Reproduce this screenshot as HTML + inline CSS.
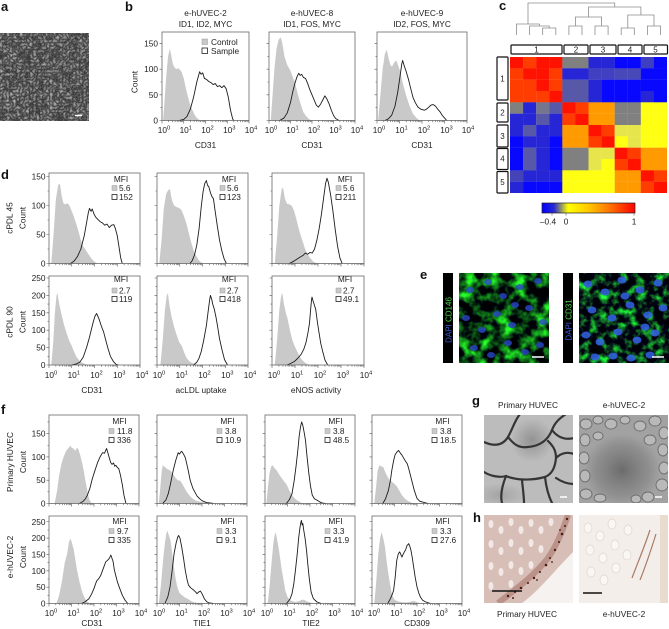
<!DOCTYPE html>
<html><head><meta charset="utf-8">
<style>
html,body{margin:0;padding:0;background:#fff}
svg{display:block;font-family:"Liberation Sans",Arial,sans-serif}
.t{font-size:8.3px;fill:#222}
.L{font-size:13px;font-weight:bold;fill:#111}
.fr{fill:none;stroke:#6a6a6a;stroke-width:0.8}
.tk{stroke:#555;stroke-width:0.6;fill:none}
.ctl{fill:#c9c9c9;stroke:none}
.smp{fill:none;stroke:#1c1c1c;stroke-width:0.9;stroke-linejoin:round;vector-effect:non-scaling-stroke}
.dg{stroke:#8c8c8c;stroke-width:0.8;fill:none}
.bx{fill:#fff;stroke:#111;stroke-width:1.2}
.lg{fill:#c9c9c9;stroke:#999;stroke-width:0.5}
.lw{fill:#fff;stroke:#222;stroke-width:0.8}
</style></head><body>
<svg width="669" height="629" viewBox="0 0 669 629">
<defs>
<path id="xd" d="M0,0V3M0.301,0V1.6M0.477,0V1.6M0.602,0V1.6M0.699,0V1.6M0.778,0V1.6M0.845,0V1.6M0.903,0V1.6M0.954,0V1.6" stroke="#555" stroke-width="0.6" vector-effect="non-scaling-stroke" fill="none"/>
<g id="xax"><use href="#xd"/><use href="#xd" x="1"/><use href="#xd" x="2"/><use href="#xd" x="3"/><path d="M4,0V3" stroke="#555" stroke-width="0.6" vector-effect="non-scaling-stroke"/></g>
<linearGradient id="cb"><stop offset="0" stop-color="#0000ff"/><stop offset="0.13" stop-color="#2a2ad0"/><stop offset="0.2" stop-color="#8a8a70"/><stop offset="0.28" stop-color="#ffff00"/><stop offset="0.5" stop-color="#ffc800"/><stop offset="0.75" stop-color="#ff6a00"/><stop offset="1" stop-color="#ff0000"/></linearGradient>
<filter id="fa" x="0" y="0" width="1" height="1" color-interpolation-filters="sRGB"><feTurbulence type="turbulence" baseFrequency="0.3" numOctaves="2" seed="2"/><feColorMatrix type="matrix" values="0.75 0 0 0 0.17  0.75 0 0 0 0.17  0.75 0 0 0 0.17  0 0 0 0 1"/></filter>
<filter id="fe1" x="0" y="0" width="1" height="1" color-interpolation-filters="sRGB"><feTurbulence type="fractalNoise" baseFrequency="0.08" numOctaves="3" seed="7"/><feColorMatrix type="matrix" values="0.4 0 0 0 -0.17  2.6 0 0 0 -1.05  0.3 0 0 0 -0.08  0 0 0 0 1"/></filter>
<filter id="fe2" x="0" y="0" width="1" height="1" color-interpolation-filters="sRGB"><feTurbulence type="fractalNoise" baseFrequency="0.11" numOctaves="3" seed="21"/><feColorMatrix type="matrix" values="0.3 0 0 0 -0.12  2.6 0 0 0 -1.15  0.4 0 0 0 -0.1  0 0 0 0 1"/></filter>
<radialGradient id="g1s" cx="0.5" cy="0.5" r="0.5"><stop offset="0" stop-color="#555" stop-opacity="0.4"/><stop offset="1" stop-color="#555" stop-opacity="0"/></radialGradient>
<radialGradient id="g2s" cx="0.5" cy="0.5" r="0.5"><stop offset="0" stop-color="#5a5a5a" stop-opacity="0.75"/><stop offset="0.7" stop-color="#6a6a6a" stop-opacity="0.35"/><stop offset="1" stop-color="#6a6a6a" stop-opacity="0"/></radialGradient>
<clipPath id="cg1"><rect x="484" y="415" width="89" height="88"/></clipPath>
<clipPath id="cg2"><rect x="579" y="415" width="89" height="88"/></clipPath>
<clipPath id="ch1"><rect x="484" y="515" width="89" height="88"/></clipPath>
<clipPath id="ch2"><rect x="579" y="515" width="89" height="88"/></clipPath>
</defs>

<!-- panel letters -->
<text class="L" x="1" y="11">a</text>
<text class="L" x="125" y="11">b</text>
<text class="L" x="499" y="10">c</text>
<text class="L" x="1" y="179">d</text>
<text class="L" x="420" y="279">e</text>
<text class="L" x="1" y="414">f</text>
<text class="L" x="472" y="405">g</text>
<text class="L" x="473" y="522">h</text>

<!-- a image -->
<rect x="0" y="33" width="89" height="88" fill="#3e3e3e" filter="url(#fa)"/>
<path d="M75,115.5H82" stroke="#fff" stroke-width="1.5"/>

<!-- b titles -->
<text class="t" x="205.5" y="16" text-anchor="middle">e-hUVEC-2</text>
<text class="t" x="205.5" y="27" text-anchor="middle">ID1, ID2, MYC</text>
<text class="t" x="312" y="16" text-anchor="middle">e-hUVEC-8</text>
<text class="t" x="312" y="27" text-anchor="middle">ID1, FOS, MYC</text>
<text class="t" x="422" y="16" text-anchor="middle">e-hUVEC-9</text>
<text class="t" x="422" y="27" text-anchor="middle">ID2, FOS, MYC</text>

<!-- b1 -->
<g transform="translate(162,120.5) scale(21.75,-0.513)">
<path class="ctl" d="M0.05,0L0.12,40L0.2,90L0.28,125L0.36,140L0.42,128L0.5,110L0.58,103L0.66,100L0.74,102L0.82,99L0.9,95L1,82L1.1,62L1.2,45L1.3,30L1.4,20L1.5,11L1.6,5L1.75,0Z"/>
<path class="smp" vector-effect="non-scaling-stroke" d="M0.8,0L1,2L1.15,8L1.3,22L1.45,45L1.6,75L1.73,95L1.8,90L1.87,93L1.95,82L2.05,80L2.15,76L2.25,74L2.35,70L2.45,72L2.55,66L2.65,68L2.75,64L2.85,68L2.95,62L3.05,45L3.15,20L3.25,3L3.3,0"/>
</g>
<rect class="fr" x="162" y="32" width="87" height="88.5"/>
<path class="tk" d="M159.5,120.5H162M159.5,94.85H162M159.5,69.2H162M159.5,43.55H162M160.5,107.7H162M160.5,82H162M160.5,56.4H162"/>
<g transform="translate(162,120.5) scale(21.75,1)"><use href="#xax"/></g>
<text class="t" x="158" y="46.5" text-anchor="end">150</text>
<text class="t" x="158" y="72.2" text-anchor="end">100</text>
<text class="t" x="158" y="97.9" text-anchor="end">50</text>
<text class="t" x="158" y="123.5" text-anchor="end">0</text>
<text class="t" transform="translate(137.5,82) rotate(-90)" text-anchor="middle">Count</text>
<rect class="lg" x="202" y="39" width="5.5" height="5.5"/><text class="t" x="211" y="45">Control</text>
<rect class="lw" x="202" y="48" width="5.5" height="5.5"/><text class="t" x="211" y="54">Sample</text>
<g class="t" text-anchor="middle">
<text x="164" y="133">10<tspan dy="-3.3" font-size="5.8">0</tspan></text>
<text x="185.8" y="133">10<tspan dy="-3.3" font-size="5.8">1</tspan></text>
<text x="207.5" y="133">10<tspan dy="-3.3" font-size="5.8">2</tspan></text>
<text x="229.3" y="133">10<tspan dy="-3.3" font-size="5.8">3</tspan></text>
<text x="251" y="133">10<tspan dy="-3.3" font-size="5.8">4</tspan></text>
<text x="205.5" y="148">CD31</text>
</g>

<!-- b2 -->
<g transform="translate(269,120.5) scale(21.5,-0.513)">
<path class="ctl" d="M0.08,0L0.15,40L0.25,100L0.35,140L0.45,158L0.55,162L0.62,150L0.72,125L0.85,108L1,97L1.1,85L1.2,75L1.35,50L1.5,28L1.6,16L1.7,10L1.85,3L2,0Z"/>
<path class="smp" vector-effect="non-scaling-stroke" d="M0.5,0L0.7,5L0.85,15L1,35L1.1,55L1.2,72L1.3,85L1.38,92L1.45,88L1.52,90L1.6,84L1.7,82L1.8,72L1.9,60L2,50L2.1,40L2.2,30L2.3,26L2.4,32L2.5,40L2.6,48L2.68,43L2.8,32L2.9,20L3,10L3.1,4L3.25,0"/>
</g>
<rect class="fr" x="269" y="32" width="86" height="88.5"/>
<path class="tk" d="M266.5,120.5H269M266.5,94.85H269M266.5,69.2H269M266.5,43.55H269M267.5,107.7H269M267.5,82H269M267.5,56.4H269"/>
<g transform="translate(269,120.5) scale(21.5,1)"><use href="#xax"/></g>
<g class="t" text-anchor="middle">
<text x="271" y="133">10<tspan dy="-3.3" font-size="5.8">0</tspan></text>
<text x="292.5" y="133">10<tspan dy="-3.3" font-size="5.8">1</tspan></text>
<text x="314" y="133">10<tspan dy="-3.3" font-size="5.8">2</tspan></text>
<text x="335.5" y="133">10<tspan dy="-3.3" font-size="5.8">3</tspan></text>
<text x="357" y="133">10<tspan dy="-3.3" font-size="5.8">4</tspan></text>
<text x="312" y="148">CD31</text>
</g>

<!-- b3 -->
<g transform="translate(377,120.5) scale(22.5,-0.513)">
<path class="ctl" d="M0.05,0L0.15,50L0.25,100L0.35,130L0.44,138L0.52,120L0.6,108L0.67,105L0.75,112L0.85,117L0.92,110L1.02,97L1.15,72L1.3,48L1.45,28L1.6,13L1.75,5L1.9,0Z"/>
<path class="smp" vector-effect="non-scaling-stroke" d="M0.35,0L0.5,3L0.65,10L0.8,28L0.92,55L1.02,85L1.1,110L1.14,117L1.2,108L1.3,95L1.4,80L1.5,62L1.6,45L1.7,35L1.82,26L1.95,22L2.1,20L2.2,22L2.3,26L2.4,30L2.5,31L2.6,28L2.7,22L2.8,17L2.9,10L3,5L3.1,0"/>
</g>
<rect class="fr" x="377" y="32" width="90" height="88.5"/>
<path class="tk" d="M374.5,120.5H377M374.5,94.85H377M374.5,69.2H377M374.5,43.55H377M375.5,107.7H377M375.5,82H377M375.5,56.4H377"/>
<g transform="translate(377,120.5) scale(22.5,1)"><use href="#xax"/></g>
<g class="t" text-anchor="middle">
<text x="379" y="133">10<tspan dy="-3.3" font-size="5.8">0</tspan></text>
<text x="401.5" y="133">10<tspan dy="-3.3" font-size="5.8">1</tspan></text>
<text x="424" y="133">10<tspan dy="-3.3" font-size="5.8">2</tspan></text>
<text x="446.5" y="133">10<tspan dy="-3.3" font-size="5.8">3</tspan></text>
<text x="468" y="133">10<tspan dy="-3.3" font-size="5.8">4</tspan></text>
<text x="422" y="148">CD31</text>
</g>

<!-- c dendrogram -->
<path class="dg" d="M528,24V3H614.7V7 M516.5,35V24H539.4 M539.4,24V26 M529.6,35V26H549.25V28 M542.7,35V28H555.8V35 M588.5,17V7H640.9V15 M575.5,26V17H601.6V26 M568.9,35V26H582V35 M595,35V26H608.1V35 M627.8,28V15H654V26 M621.2,35V28H634.3V35 M647.4,35V26H660.5V35"/>
<rect class="bx" x="511" y="45" width="51" height="9" rx="1"/>
<rect class="bx" x="564" y="45" width="24" height="9" rx="1"/>
<rect class="bx" x="590" y="45" width="26" height="9" rx="1"/>
<rect class="bx" x="618" y="45" width="24" height="9" rx="1"/>
<rect class="bx" x="644" y="45" width="23.5" height="9" rx="1"/>
<g class="t" text-anchor="middle" style="font-size:8px">
<text x="536.5" y="52.5">1</text><text x="576" y="52.5">2</text><text x="603" y="52.5">3</text><text x="630" y="52.5">4</text><text x="655.5" y="52.5">5</text>
</g>
<rect class="bx" x="497" y="57" width="11" height="43" rx="1"/>
<rect class="bx" x="497" y="103" width="11" height="19" rx="1"/>
<rect class="bx" x="497" y="125" width="11" height="22" rx="1"/>
<rect class="bx" x="497" y="148.5" width="11" height="21" rx="1"/>
<rect class="bx" x="497" y="171.5" width="11" height="21.5" rx="1"/>
<g class="t" text-anchor="middle" style="font-size:8px">
<text x="502.5" y="81.5">1</text><text x="502.5" y="115.5">2</text><text x="502.5" y="139">3</text><text x="502.5" y="161.5">4</text><text x="502.5" y="185">5</text>
</g>
<!-- heatmap -->
<g>
<rect x="510" y="57" width="13.2" height="11.45" fill="#ff1200"/><rect x="523.08" y="57" width="13.2" height="11.45" fill="#ff3d00"/><rect x="536.17" y="57" width="13.2" height="11.45" fill="#ff1200"/><rect x="549.25" y="57" width="13.2" height="11.45" fill="#ff1200"/><rect x="562.33" y="57" width="13.2" height="11.45" fill="#808080"/><rect x="575.42" y="57" width="13.2" height="11.45" fill="#808080"/><rect x="588.5" y="57" width="13.2" height="11.45" fill="#2626d6"/><rect x="601.58" y="57" width="13.2" height="11.45" fill="#2626d6"/><rect x="614.67" y="57" width="13.2" height="11.45" fill="#0808ff"/><rect x="627.75" y="57" width="13.2" height="11.45" fill="#0808ff"/><rect x="640.83" y="57" width="13.2" height="11.45" fill="#3e3ec0"/><rect x="653.92" y="57" width="13.08" height="11.45" fill="#0808ff"/>
<rect x="510" y="68.33" width="13.2" height="11.45" fill="#ff3d00"/><rect x="523.08" y="68.33" width="13.2" height="11.45" fill="#ff1200"/><rect x="536.17" y="68.33" width="13.2" height="11.45" fill="#ff1200"/><rect x="549.25" y="68.33" width="13.2" height="11.45" fill="#ff3d00"/><rect x="562.33" y="68.33" width="13.2" height="11.45" fill="#2626d6"/><rect x="575.42" y="68.33" width="13.2" height="11.45" fill="#2626d6"/><rect x="588.5" y="68.33" width="13.2" height="11.45" fill="#4040c0"/><rect x="601.58" y="68.33" width="13.2" height="11.45" fill="#4040c0"/><rect x="614.67" y="68.33" width="13.2" height="11.45" fill="#4848b8"/><rect x="627.75" y="68.33" width="13.2" height="11.45" fill="#4848b8"/><rect x="640.83" y="68.33" width="13.2" height="11.45" fill="#0808ff"/><rect x="653.92" y="68.33" width="13.08" height="11.45" fill="#0808ff"/>
<rect x="510" y="79.67" width="13.2" height="11.45" fill="#ff3d00"/><rect x="523.08" y="79.67" width="13.2" height="11.45" fill="#ff3d00"/><rect x="536.17" y="79.67" width="13.2" height="11.45" fill="#ff1200"/><rect x="549.25" y="79.67" width="13.2" height="11.45" fill="#ff3d00"/><rect x="562.33" y="79.67" width="13.2" height="11.45" fill="#5858a8"/><rect x="575.42" y="79.67" width="13.2" height="11.45" fill="#5858a8"/><rect x="588.5" y="79.67" width="13.2" height="11.45" fill="#2626d6"/><rect x="601.58" y="79.67" width="13.2" height="11.45" fill="#0808ff"/><rect x="614.67" y="79.67" width="13.2" height="11.45" fill="#0808ff"/><rect x="627.75" y="79.67" width="13.2" height="11.45" fill="#0808ff"/><rect x="640.83" y="79.67" width="13.2" height="11.45" fill="#0808ff"/><rect x="653.92" y="79.67" width="13.08" height="11.45" fill="#0808ff"/>
<rect x="510" y="91" width="13.2" height="11.45" fill="#ff3d00"/><rect x="523.08" y="91" width="13.2" height="11.45" fill="#ff3d00"/><rect x="536.17" y="91" width="13.2" height="11.45" fill="#ff3d00"/><rect x="549.25" y="91" width="13.2" height="11.45" fill="#ff1200"/><rect x="562.33" y="91" width="13.2" height="11.45" fill="#5858a8"/><rect x="575.42" y="91" width="13.2" height="11.45" fill="#5858a8"/><rect x="588.5" y="91" width="13.2" height="11.45" fill="#2626d6"/><rect x="601.58" y="91" width="13.2" height="11.45" fill="#0808ff"/><rect x="614.67" y="91" width="13.2" height="11.45" fill="#0808ff"/><rect x="627.75" y="91" width="13.2" height="11.45" fill="#0808ff"/><rect x="640.83" y="91" width="13.2" height="11.45" fill="#2626d6"/><rect x="653.92" y="91" width="13.08" height="11.45" fill="#0808ff"/>
<rect x="510" y="102.33" width="13.2" height="11.45" fill="#808080"/><rect x="523.08" y="102.33" width="13.2" height="11.45" fill="#2626d6"/><rect x="536.17" y="102.33" width="13.2" height="11.45" fill="#757590"/><rect x="549.25" y="102.33" width="13.2" height="11.45" fill="#5858a8"/><rect x="562.33" y="102.33" width="13.2" height="11.45" fill="#ff1200"/><rect x="575.42" y="102.33" width="13.2" height="11.45" fill="#ff3d00"/><rect x="588.5" y="102.33" width="13.2" height="11.45" fill="#ff9a00"/><rect x="601.58" y="102.33" width="13.2" height="11.45" fill="#ff9a00"/><rect x="614.67" y="102.33" width="13.2" height="11.45" fill="#808080"/><rect x="627.75" y="102.33" width="13.2" height="11.45" fill="#808080"/><rect x="640.83" y="102.33" width="13.2" height="11.45" fill="#ffff14"/><rect x="653.92" y="102.33" width="13.08" height="11.45" fill="#ffff14"/>
<rect x="510" y="113.67" width="13.2" height="11.45" fill="#2626d6"/><rect x="523.08" y="113.67" width="13.2" height="11.45" fill="#2626d6"/><rect x="536.17" y="113.67" width="13.2" height="11.45" fill="#5858a8"/><rect x="549.25" y="113.67" width="13.2" height="11.45" fill="#2626d6"/><rect x="562.33" y="113.67" width="13.2" height="11.45" fill="#ff3d00"/><rect x="575.42" y="113.67" width="13.2" height="11.45" fill="#ff1200"/><rect x="588.5" y="113.67" width="13.2" height="11.45" fill="#ff9a00"/><rect x="601.58" y="113.67" width="13.2" height="11.45" fill="#ff9a00"/><rect x="614.67" y="113.67" width="13.2" height="11.45" fill="#808080"/><rect x="627.75" y="113.67" width="13.2" height="11.45" fill="#808080"/><rect x="640.83" y="113.67" width="13.2" height="11.45" fill="#ffff14"/><rect x="653.92" y="113.67" width="13.08" height="11.45" fill="#ffff14"/>
<rect x="510" y="125" width="13.2" height="11.45" fill="#2626d6"/><rect x="523.08" y="125" width="13.2" height="11.45" fill="#5858a8"/><rect x="536.17" y="125" width="13.2" height="11.45" fill="#2626d6"/><rect x="549.25" y="125" width="13.2" height="11.45" fill="#2626d6"/><rect x="562.33" y="125" width="13.2" height="11.45" fill="#ff9a00"/><rect x="575.42" y="125" width="13.2" height="11.45" fill="#ff9a00"/><rect x="588.5" y="125" width="13.2" height="11.45" fill="#ff1200"/><rect x="601.58" y="125" width="13.2" height="11.45" fill="#ff3d00"/><rect x="614.67" y="125" width="13.2" height="11.45" fill="#e6e64c"/><rect x="627.75" y="125" width="13.2" height="11.45" fill="#e6e64c"/><rect x="640.83" y="125" width="13.2" height="11.45" fill="#ffff14"/><rect x="653.92" y="125" width="13.08" height="11.45" fill="#ffff14"/>
<rect x="510" y="136.33" width="13.2" height="11.45" fill="#0808ff"/><rect x="523.08" y="136.33" width="13.2" height="11.45" fill="#2626d6"/><rect x="536.17" y="136.33" width="13.2" height="11.45" fill="#2626d6"/><rect x="549.25" y="136.33" width="13.2" height="11.45" fill="#0808ff"/><rect x="562.33" y="136.33" width="13.2" height="11.45" fill="#ff9a00"/><rect x="575.42" y="136.33" width="13.2" height="11.45" fill="#ff9a00"/><rect x="588.5" y="136.33" width="13.2" height="11.45" fill="#ff3d00"/><rect x="601.58" y="136.33" width="13.2" height="11.45" fill="#ff1200"/><rect x="614.67" y="136.33" width="13.2" height="11.45" fill="#ffff14"/><rect x="627.75" y="136.33" width="13.2" height="11.45" fill="#e6e64c"/><rect x="640.83" y="136.33" width="13.2" height="11.45" fill="#ffff14"/><rect x="653.92" y="136.33" width="13.08" height="11.45" fill="#ffff14"/>
<rect x="510" y="147.67" width="13.2" height="11.45" fill="#0808ff"/><rect x="523.08" y="147.67" width="13.2" height="11.45" fill="#5858a8"/><rect x="536.17" y="147.67" width="13.2" height="11.45" fill="#2626d6"/><rect x="549.25" y="147.67" width="13.2" height="11.45" fill="#0808ff"/><rect x="562.33" y="147.67" width="13.2" height="11.45" fill="#808080"/><rect x="575.42" y="147.67" width="13.2" height="11.45" fill="#808080"/><rect x="588.5" y="147.67" width="13.2" height="11.45" fill="#e6e64c"/><rect x="601.58" y="147.67" width="13.2" height="11.45" fill="#e6e64c"/><rect x="614.67" y="147.67" width="13.2" height="11.45" fill="#ff1200"/><rect x="627.75" y="147.67" width="13.2" height="11.45" fill="#ff3d00"/><rect x="640.83" y="147.67" width="13.2" height="11.45" fill="#ff9a00"/><rect x="653.92" y="147.67" width="13.08" height="11.45" fill="#ff9a00"/>
<rect x="510" y="159" width="13.2" height="11.45" fill="#0808ff"/><rect x="523.08" y="159" width="13.2" height="11.45" fill="#5858a8"/><rect x="536.17" y="159" width="13.2" height="11.45" fill="#2626d6"/><rect x="549.25" y="159" width="13.2" height="11.45" fill="#0808ff"/><rect x="562.33" y="159" width="13.2" height="11.45" fill="#808080"/><rect x="575.42" y="159" width="13.2" height="11.45" fill="#808080"/><rect x="588.5" y="159" width="13.2" height="11.45" fill="#e6e64c"/><rect x="601.58" y="159" width="13.2" height="11.45" fill="#ffff14"/><rect x="614.67" y="159" width="13.2" height="11.45" fill="#ff3d00"/><rect x="627.75" y="159" width="13.2" height="11.45" fill="#ff1200"/><rect x="640.83" y="159" width="13.2" height="11.45" fill="#ff9a00"/><rect x="653.92" y="159" width="13.08" height="11.45" fill="#ff9a00"/>
<rect x="510" y="170.33" width="13.2" height="11.45" fill="#4444b8"/><rect x="523.08" y="170.33" width="13.2" height="11.45" fill="#2626d6"/><rect x="536.17" y="170.33" width="13.2" height="11.45" fill="#2626d6"/><rect x="549.25" y="170.33" width="13.2" height="11.45" fill="#2626d6"/><rect x="562.33" y="170.33" width="13.2" height="11.45" fill="#ffff14"/><rect x="575.42" y="170.33" width="13.2" height="11.45" fill="#ffff14"/><rect x="588.5" y="170.33" width="13.2" height="11.45" fill="#ffff14"/><rect x="601.58" y="170.33" width="13.2" height="11.45" fill="#ffff14"/><rect x="614.67" y="170.33" width="13.2" height="11.45" fill="#ff9a00"/><rect x="627.75" y="170.33" width="13.2" height="11.45" fill="#ff9a00"/><rect x="640.83" y="170.33" width="13.2" height="11.45" fill="#ff1200"/><rect x="653.92" y="170.33" width="13.08" height="11.45" fill="#ff3d00"/>
<rect x="510" y="181.67" width="13.2" height="11.33" fill="#2626d6"/><rect x="523.08" y="181.67" width="13.2" height="11.33" fill="#0808ff"/><rect x="536.17" y="181.67" width="13.2" height="11.33" fill="#0808ff"/><rect x="549.25" y="181.67" width="13.2" height="11.33" fill="#0808ff"/><rect x="562.33" y="181.67" width="13.2" height="11.33" fill="#ffff14"/><rect x="575.42" y="181.67" width="13.2" height="11.33" fill="#ffff14"/><rect x="588.5" y="181.67" width="13.2" height="11.33" fill="#ffff14"/><rect x="601.58" y="181.67" width="13.2" height="11.33" fill="#ffff14"/><rect x="614.67" y="181.67" width="13.2" height="11.33" fill="#ff9a00"/><rect x="627.75" y="181.67" width="13.2" height="11.33" fill="#ff9a00"/><rect x="640.83" y="181.67" width="13.2" height="11.33" fill="#ff3d00"/><rect x="653.92" y="181.67" width="13.08" height="11.33" fill="#ff1200"/>
</g>
<!-- colorbar -->
<rect x="542" y="203" width="93" height="10" fill="url(#cb)" stroke="#222" stroke-width="0.7"/>
<path class="tk" d="M552,213V215.5M566,213V215.5M634,213V215.5"/>
<g class="t" text-anchor="middle">
<text x="548" y="224.5">–0.4</text><text x="566" y="224.5">0</text><text x="634" y="224.5">1</text>
</g>

<!-- d row labels -->
<g class="t" text-anchor="middle">
<text transform="translate(12.5,218) rotate(-90)">cPDL 45</text>
<text transform="translate(25.5,218) rotate(-90)">Count</text>
<text transform="translate(12.5,322) rotate(-90)">cPDL 90</text>
<text transform="translate(25.5,322) rotate(-90)">Count</text>
</g>
<g class="t" text-anchor="end">
<text x="45.5" y="179.5">150</text><text x="45.5" y="208.5">100</text><text x="45.5" y="237.5">50</text><text x="45.5" y="266.5">0</text>
<text x="45.5" y="281">250</text><text x="45.5" y="298.4">200</text><text x="45.5" y="315.8">150</text><text x="45.5" y="333.2">100</text><text x="45.5" y="350.6">50</text><text x="45.5" y="368">0</text>
</g>

<!-- d top plots -->
<g transform="translate(49,263.5) scale(22.75,-0.58)">
<path class="ctl" d="M0.1,0L0.2,50L0.3,110L0.4,135L0.48,138L0.55,118L0.63,104L0.72,102L0.8,104L0.9,100L1,90L1.1,80L1.2,68L1.3,55L1.4,40L1.5,30L1.6,24L1.7,18L1.8,12L1.9,7L2,3L2.15,0Z"/>
<path class="smp" vector-effect="non-scaling-stroke" d="M0.95,0L1.1,4L1.25,12L1.4,25L1.55,48L1.65,70L1.73,88L1.78,95L1.85,90L1.9,94L1.97,86L2.05,80L2.15,76L2.25,72L2.35,70L2.45,66L2.55,68L2.65,62L2.75,66L2.85,67L2.92,60L3,48L3.08,28L3.15,10L3.22,0"/>
</g>
<g transform="translate(157,263.5) scale(22.75,-0.58)">
<path class="ctl" d="M0.1,0L0.2,40L0.3,95L0.4,120L0.5,127L0.57,128L0.65,110L0.75,100L0.87,97L0.97,96L1.08,92L1.2,80L1.3,68L1.4,52L1.52,34L1.63,20L1.74,12L1.85,5L2,0Z"/>
<path class="smp" vector-effect="non-scaling-stroke" d="M1.45,0L1.55,5L1.65,15L1.75,32L1.85,60L1.95,100L2.03,125L2.1,138L2.17,143L2.22,135L2.28,132L2.35,122L2.42,115L2.48,112L2.55,92L2.65,65L2.75,40L2.85,22L2.95,8L3.05,0"/>
</g>
<g transform="translate(272,263.5) scale(23,-0.58)">
<path class="ctl" d="M0.12,0L0.22,45L0.32,100L0.42,128L0.48,131L0.56,112L0.65,103L0.75,102L0.85,100L0.95,92L1.05,78L1.15,62L1.25,48L1.35,36L1.45,24L1.55,16L1.65,10L1.8,3L1.95,0Z"/>
<path class="smp" vector-effect="non-scaling-stroke" d="M0.75,0L0.95,4L1.1,8L1.22,11L1.35,14L1.45,18L1.55,16L1.65,19L1.75,18L1.85,25L1.95,40L2.05,60L2.15,85L2.25,115L2.33,138L2.39,147L2.45,140L2.55,118L2.65,90L2.75,58L2.85,30L2.95,10L3.05,0"/>
</g>
<rect class="fr" x="49" y="173" width="91" height="90.5"/>
<rect class="fr" x="157" y="173" width="91" height="90.5"/>
<rect class="fr" x="272" y="173" width="92" height="90.5"/>
<path class="tk" d="M46.5,263.5H49M46.5,234.5H49M46.5,205.5H49M46.5,176.5H49M47.5,249H49M47.5,220H49M47.5,191H49 M154.5,263.5H157M154.5,234.5H157M154.5,205.5H157M154.5,176.5H157M155.5,249H157M155.5,220H157M155.5,191H157 M269.5,263.5H272M269.5,234.5H272M269.5,205.5H272M269.5,176.5H272M270.5,249H272M270.5,220H272M270.5,191H272"/>
<g transform="translate(49,263.5) scale(22.75,1)"><use href="#xax"/></g>
<g transform="translate(157,263.5) scale(22.75,1)"><use href="#xax"/></g>
<g transform="translate(272,263.5) scale(23,1)"><use href="#xax"/></g>
<g class="t">
<text x="121" y="182" text-anchor="middle">MFI</text>
<rect class="lg" x="112" y="185.5" width="5" height="5"/><text x="119" y="191">5.6</text>
<rect class="lw" x="112" y="194.5" width="5" height="5"/><text x="119" y="200">152</text>
<text x="229" y="182" text-anchor="middle">MFI</text>
<rect class="lg" x="220" y="185.5" width="5" height="5"/><text x="227" y="191">5.6</text>
<rect class="lw" x="220" y="194.5" width="5" height="5"/><text x="227" y="200">123</text>
<text x="345" y="182" text-anchor="middle">MFI</text>
<rect class="lg" x="336" y="185.5" width="5" height="5"/><text x="343" y="191">5.6</text>
<rect class="lw" x="336" y="194.5" width="5" height="5"/><text x="343" y="200">211</text>
</g>

<!-- d bottom plots -->
<g transform="translate(49,365) scale(22.75,-0.348)">
<path class="ctl" d="M0.1,0L0.18,60L0.26,150L0.33,200L0.37,206L0.45,175L0.55,145L0.65,118L0.78,90L0.9,68L1,55L1.1,38L1.22,22L1.35,12L1.5,5L1.7,0Z"/>
<path class="smp" vector-effect="non-scaling-stroke" d="M1,0L1.2,3L1.35,8L1.5,22L1.65,50L1.78,80L1.87,104L1.95,125L2.02,140L2.09,148L2.15,140L2.2,132L2.3,112L2.4,95L2.5,70L2.6,46L2.7,25L2.83,10L2.95,2L3.05,0"/>
</g>
<g transform="translate(157,365) scale(22.75,-0.348)">
<path class="ctl" d="M0.15,0L0.25,70L0.35,160L0.43,200L0.48,206L0.55,170L0.63,142L0.75,110L0.87,85L0.98,65L1.09,55L1.2,35L1.3,20L1.45,9L1.6,4L1.8,0Z"/>
<path class="smp" vector-effect="non-scaling-stroke" d="M1.6,0L1.75,8L1.85,20L1.95,40L2.05,70L2.17,113L2.26,160L2.32,190L2.35,200L2.4,190L2.45,175L2.52,160L2.6,135L2.67,108L2.75,75L2.87,40L2.97,15L3.1,0"/>
</g>
<g transform="translate(272,365) scale(23,-0.348)">
<path class="ctl" d="M0.12,0L0.22,70L0.32,160L0.4,200L0.45,206L0.52,175L0.6,150L0.67,135L0.78,100L0.89,70L1,52L1.09,40L1.2,25L1.3,15L1.45,6L1.6,0Z"/>
<path class="smp" vector-effect="non-scaling-stroke" d="M0.65,0L0.8,4L0.97,10L1.1,18L1.26,30L1.38,45L1.48,65L1.57,95L1.63,120L1.68,160L1.72,188L1.74,195L1.78,185L1.83,175L1.9,160L1.97,125L2.04,95L2.12,62L2.2,40L2.3,15L2.42,0"/>
</g>
<rect class="fr" x="49" y="276" width="91" height="89"/>
<rect class="fr" x="157" y="276" width="91" height="89"/>
<rect class="fr" x="272" y="276" width="92" height="89"/>
<path class="tk" d="M46.5,365H49M46.5,347.6H49M46.5,330.2H49M46.5,312.8H49M46.5,295.4H49M46.5,278H49M47.5,356.3H49M47.5,338.9H49M47.5,321.5H49M47.5,304.1H49M47.5,286.7H49 M154.5,365H157M154.5,347.6H157M154.5,330.2H157M154.5,312.8H157M154.5,295.4H157M154.5,278H157M155.5,356.3H157M155.5,338.9H157M155.5,321.5H157M155.5,304.1H157M155.5,286.7H157 M269.5,365H272M269.5,347.6H272M269.5,330.2H272M269.5,312.8H272M269.5,295.4H272M269.5,278H272M270.5,356.3H272M270.5,338.9H272M270.5,321.5H272M270.5,304.1H272M270.5,286.7H272"/>
<g transform="translate(49,365) scale(22.75,1)"><use href="#xax"/></g>
<g transform="translate(157,365) scale(22.75,1)"><use href="#xax"/></g>
<g transform="translate(272,365) scale(23,1)"><use href="#xax"/></g>
<g class="t">
<text x="121" y="282" text-anchor="middle">MFI</text>
<rect class="lg" x="112" y="288" width="5" height="5"/><text x="119" y="293.5">2.7</text>
<rect class="lw" x="112" y="296.5" width="5" height="5"/><text x="119" y="302">119</text>
<text x="229" y="282" text-anchor="middle">MFI</text>
<rect class="lg" x="220" y="288" width="5" height="5"/><text x="227" y="293.5">2.7</text>
<rect class="lw" x="220" y="296.5" width="5" height="5"/><text x="227" y="302">418</text>
<text x="345" y="282" text-anchor="middle">MFI</text>
<rect class="lg" x="336" y="288" width="5" height="5"/><text x="343" y="293.5">2.7</text>
<rect class="lw" x="336" y="296.5" width="5" height="5"/><text x="343" y="302">49.1</text>
</g>
<g class="t" text-anchor="middle">
<text x="51" y="378">10<tspan dy="-3.3" font-size="5.8">0</tspan></text>
<text x="73.8" y="378">10<tspan dy="-3.3" font-size="5.8">1</tspan></text>
<text x="96.5" y="378">10<tspan dy="-3.3" font-size="5.8">2</tspan></text>
<text x="119.3" y="378">10<tspan dy="-3.3" font-size="5.8">3</tspan></text>
<text x="142" y="378">10<tspan dy="-3.3" font-size="5.8">4</tspan></text>
<text x="159" y="378">10<tspan dy="-3.3" font-size="5.8">0</tspan></text>
<text x="181.8" y="378">10<tspan dy="-3.3" font-size="5.8">1</tspan></text>
<text x="204.5" y="378">10<tspan dy="-3.3" font-size="5.8">2</tspan></text>
<text x="227.3" y="378">10<tspan dy="-3.3" font-size="5.8">3</tspan></text>
<text x="250" y="378">10<tspan dy="-3.3" font-size="5.8">4</tspan></text>
<text x="274" y="378">10<tspan dy="-3.3" font-size="5.8">0</tspan></text>
<text x="297" y="378">10<tspan dy="-3.3" font-size="5.8">1</tspan></text>
<text x="320" y="378">10<tspan dy="-3.3" font-size="5.8">2</tspan></text>
<text x="343" y="378">10<tspan dy="-3.3" font-size="5.8">3</tspan></text>
<text x="366" y="378">10<tspan dy="-3.3" font-size="5.8">4</tspan></text>
<text x="92" y="393">CD31</text>
<text x="201" y="393">acLDL uptake</text>
<text x="316" y="393">eNOS activity</text>
</g>

<!-- e panel -->
<rect x="443" y="273" width="10" height="90" fill="#000"/>
<rect x="459" y="273" width="90" height="90" fill="#000" filter="url(#fe1)"/>
<rect x="563" y="273" width="10" height="90" fill="#000"/>
<rect x="579" y="273" width="90" height="90" fill="#000" filter="url(#fe2)"/>
<g font-size="8" text-anchor="middle">
<text transform="translate(451.5,320) rotate(-90)"><tspan fill="#3b5bd6">DAPI</tspan><tspan fill="#4cd84c"> CD146</tspan></text>
<text transform="translate(571.5,320) rotate(-90)"><tspan fill="#3b5bd6">DAPI</tspan><tspan fill="#4cd84c"> CD31</tspan></text>
</g>
<g fill="#2a46c8" opacity="0.8">
<ellipse cx="470" cy="290" rx="4" ry="3"/><ellipse cx="488" cy="282" rx="4" ry="3"/><ellipse cx="503" cy="296" rx="4" ry="3"/><ellipse cx="520" cy="287" rx="4" ry="3"/><ellipse cx="538" cy="281" rx="4" ry="3"/><ellipse cx="466" cy="318" rx="4" ry="3"/><ellipse cx="482" cy="330" rx="4" ry="3"/><ellipse cx="497" cy="314" rx="4" ry="3"/><ellipse cx="512" cy="325" rx="4" ry="3"/><ellipse cx="529" cy="308" rx="4" ry="3"/><ellipse cx="543" cy="322" rx="4" ry="3"/><ellipse cx="474" cy="348" rx="4" ry="3"/><ellipse cx="491" cy="355" rx="4" ry="3"/><ellipse cx="508" cy="343" rx="4" ry="3"/><ellipse cx="525" cy="352" rx="4" ry="3"/><ellipse cx="540" cy="345" rx="4" ry="3"/><ellipse cx="515" cy="305" rx="4" ry="3"/>
</g>
<g fill="#3462e6" opacity="0.85">
<ellipse cx="588" cy="284" rx="4.5" ry="3.5"/><ellipse cx="605" cy="292" rx="4.5" ry="3.5"/><ellipse cx="622" cy="280" rx="4.5" ry="3.5"/><ellipse cx="640" cy="290" rx="4.5" ry="3.5"/><ellipse cx="658" cy="283" rx="4.5" ry="3.5"/><ellipse cx="592" cy="310" rx="4.5" ry="3.5"/><ellipse cx="612" cy="318" rx="4.5" ry="3.5"/><ellipse cx="630" cy="305" rx="4.5" ry="3.5"/><ellipse cx="648" cy="315" rx="4.5" ry="3.5"/><ellipse cx="663" cy="308" rx="4.5" ry="3.5"/><ellipse cx="586" cy="335" rx="4.5" ry="3.5"/><ellipse cx="600" cy="342" rx="4.5" ry="3.5"/><ellipse cx="618" cy="332" rx="4.5" ry="3.5"/><ellipse cx="637" cy="340" rx="4.5" ry="3.5"/><ellipse cx="655" cy="333" rx="4.5" ry="3.5"/><ellipse cx="595" cy="357" rx="4.5" ry="3.5"/><ellipse cx="613" cy="356" rx="4.5" ry="3.5"/><ellipse cx="631" cy="358" rx="4.5" ry="3.5"/><ellipse cx="650" cy="355" rx="4.5" ry="3.5"/><ellipse cx="625" cy="296" rx="4.5" ry="3.5"/><ellipse cx="645" cy="327" rx="4.5" ry="3.5"/>
</g>
<path d="M532,357H544M652,357H664" stroke="#fff" stroke-width="1.5"/>

<!-- f row labels -->
<g class="t" text-anchor="middle">
<text transform="translate(13,462) rotate(-90)">Primary HUVEC</text>
<text transform="translate(26,462) rotate(-90)">Count</text>
<text transform="translate(13,557) rotate(-90)">e-hUVEC-2</text>
<text transform="translate(26,557) rotate(-90)">Count</text>
</g>
<g class="t" text-anchor="end">
<text x="45.5" y="436.6">150</text><text x="45.5" y="459.9">100</text><text x="45.5" y="483.2">50</text><text x="45.5" y="506.5">0</text>
<text x="45.5" y="524.75">250</text><text x="45.5" y="541.1">200</text><text x="45.5" y="557.45">150</text><text x="45.5" y="573.8">100</text><text x="45.5" y="590.15">50</text><text x="45.5" y="606.5">0</text>
</g>

<!-- f top plots -->
<g transform="translate(49,503.5) scale(22.5,-0.466)">
<path class="ctl" d="M0.25,0L0.35,25L0.45,60L0.55,85L0.65,100L0.75,112L0.85,118L0.94,124L1,120L1.08,118L1.17,113L1.25,120L1.3,117L1.38,105L1.48,86L1.55,68L1.62,49L1.7,28L1.78,10L1.9,0Z"/>
<path class="smp" vector-effect="non-scaling-stroke" d="M1.35,0L1.5,4L1.6,9L1.7,17L1.82,33L1.93,54L2.05,72L2.16,88L2.27,100L2.38,109L2.47,108L2.52,114L2.56,118L2.62,108L2.68,98L2.74,88L2.8,84L2.87,87L2.92,80L2.97,82L3.04,77L3.1,75L3.18,60L3.26,40L3.33,18L3.42,0"/>
</g>
<g transform="translate(157,503.5) scale(22.5,-0.466)">
<path class="ctl" d="M0.08,0L0.14,30L0.2,65L0.25,82L0.3,80L0.36,78L0.45,74L0.58,71L0.7,64L0.81,56L0.92,50L1.03,49L1.15,40L1.26,30L1.37,22L1.48,15L1.62,9L1.78,5L2,3L2.2,2L2.5,1L2.7,0Z"/>
<path class="smp" vector-effect="non-scaling-stroke" d="M0.25,0L0.4,8L0.5,21L0.6,42L0.72,71L0.83,92L0.94,109L1,106L1.05,110L1.1,112L1.18,106L1.26,98L1.37,75L1.48,49L1.6,32L1.78,16L1.9,10L2,6L2.2,2L2.4,1L2.5,0"/>
</g>
<g transform="translate(265,503.5) scale(22.5,-0.466)">
<path class="ctl" d="M0.06,0L0.12,30L0.2,65L0.28,80L0.34,82L0.42,76L0.52,71L0.63,62L0.75,54L0.86,47L0.97,40L1.08,28L1.2,18L1.3,12L1.42,7L1.55,3L1.7,0Z"/>
<path class="smp" vector-effect="non-scaling-stroke" d="M0.95,0L1.08,8L1.2,21L1.3,50L1.38,80L1.45,110L1.52,145L1.58,165L1.63,175L1.68,168L1.75,150L1.8,135L1.87,100L1.95,64L2.02,38L2.1,18L2.2,10L2.32,7L2.45,3L2.55,1L2.7,0"/>
</g>
<g transform="translate(372,503.5) scale(22.5,-0.466)">
<path class="ctl" d="M0.1,0L0.18,35L0.25,70L0.33,82L0.4,80L0.5,78L0.62,64L0.73,54L0.88,47L1,42L1.1,37L1.22,27L1.33,18L1.45,11L1.55,7L1.7,3L1.85,0Z"/>
<path class="smp" vector-effect="non-scaling-stroke" d="M0.48,0L0.6,10L0.73,28L0.82,50L0.88,71L0.96,92L1.03,105L1.1,110L1.18,114L1.26,108L1.33,104L1.4,98L1.5,90L1.57,85L1.63,75L1.7,62L1.78,47L1.88,28L2,11L2.12,5L2.25,3L2.5,0"/>
</g>
<rect class="fr" x="49" y="415" width="90" height="88.5"/>
<rect class="fr" x="157" y="415" width="90" height="88.5"/>
<rect class="fr" x="265" y="415" width="90" height="88.5"/>
<rect class="fr" x="372" y="415" width="90" height="88.5"/>
<path class="tk" d="M46.5,503.5H49M46.5,480.2H49M46.5,456.9H49M46.5,433.6H49M47.5,491.85H49M47.5,468.55H49M47.5,445.25H49M47.5,421.95H49 M154.5,503.5H157M154.5,480.2H157M154.5,456.9H157M154.5,433.6H157M155.5,491.85H157M155.5,468.55H157M155.5,445.25H157M155.5,421.95H157 M262.5,503.5H265M262.5,480.2H265M262.5,456.9H265M262.5,433.6H265M263.5,491.85H265M263.5,468.55H265M263.5,445.25H265M263.5,421.95H265 M369.5,503.5H372M369.5,480.2H372M369.5,456.9H372M369.5,433.6H372M370.5,491.85H372M370.5,468.55H372M370.5,445.25H372M370.5,421.95H372"/>
<g transform="translate(49,503.5) scale(22.5,1)"><use href="#xax"/></g>
<g transform="translate(157,503.5) scale(22.5,1)"><use href="#xax"/></g>
<g transform="translate(265,503.5) scale(22.5,1)"><use href="#xax"/></g>
<g transform="translate(372,503.5) scale(22.5,1)"><use href="#xax"/></g>
<g class="t">
<text x="119.5" y="424" text-anchor="middle">MFI</text>
<rect class="lg" x="109" y="428.5" width="5" height="5"/><text x="117" y="434">11.8</text>
<rect class="lw" x="109" y="437.5" width="5" height="5"/><text x="117" y="443">336</text>
<text x="227.5" y="424" text-anchor="middle">MFI</text>
<rect class="lg" x="217" y="428.5" width="5" height="5"/><text x="225" y="434">3.8</text>
<rect class="lw" x="217" y="437.5" width="5" height="5"/><text x="225" y="443">10.9</text>
<text x="335.5" y="424" text-anchor="middle">MFI</text>
<rect class="lg" x="325" y="428.5" width="5" height="5"/><text x="333" y="434">3.8</text>
<rect class="lw" x="325" y="437.5" width="5" height="5"/><text x="333" y="443">48.5</text>
<text x="442.5" y="424" text-anchor="middle">MFI</text>
<rect class="lg" x="432" y="428.5" width="5" height="5"/><text x="440" y="434">3.8</text>
<rect class="lw" x="432" y="437.5" width="5" height="5"/><text x="440" y="443">18.5</text>
</g>

<!-- f bottom plots -->
<g transform="translate(49,603.5) scale(22.5,-0.327)">
<path class="ctl" d="M0.33,0L0.45,25L0.58,70L0.7,125L0.81,153L0.88,185L0.94,199L1,190L1.1,165L1.17,135L1.24,104L1.36,65L1.48,34L1.6,15L1.7,5L1.85,0Z"/>
<path class="smp" vector-effect="non-scaling-stroke" d="M1.45,0L1.6,5L1.78,15L1.9,30L2,46L2.08,62L2.13,70L2.2,75L2.3,86L2.4,105L2.52,127L2.6,132L2.67,137L2.71,142L2.75,148L2.8,138L2.85,128L2.9,104L2.97,85L3.04,66L3.15,45L3.26,25L3.38,10L3.5,0"/>
</g>
<g transform="translate(157,603.5) scale(22.5,-0.327)">
<path class="ctl" d="M0.08,0L0.18,60L0.28,140L0.36,190L0.42,215L0.46,223L0.52,210L0.6,193L0.68,150L0.75,112L0.83,75L0.9,51L1,32L1.12,25L1.25,18L1.35,15L1.5,8L1.65,4L1.8,2L2,1L2.2,0Z"/>
<path class="smp" vector-effect="non-scaling-stroke" d="M0.35,0L0.48,20L0.58,51L0.68,105L0.76,153L0.85,185L0.92,203L0.96,208L1.02,200L1.1,172L1.18,138L1.26,100L1.33,75L1.4,56L1.5,48L1.63,41L1.72,35L1.78,30L1.85,35L1.93,38L2,30L2.1,15L2.2,6L2.3,2L2.5,0"/>
</g>
<g transform="translate(265,603.5) scale(22.5,-0.327)">
<path class="ctl" d="M0.12,0L0.2,50L0.3,132L0.38,190L0.45,218L0.5,210L0.6,172L0.68,135L0.75,100L0.83,70L0.9,40L1,20L1.12,10L1.25,6L1.35,5L1.5,7L1.65,12L1.75,11L1.85,7L2,3L2.2,0Z"/>
<path class="smp" vector-effect="non-scaling-stroke" d="M0.95,0L1.05,8L1.12,15L1.2,30L1.28,60L1.35,100L1.43,150L1.5,203L1.56,235L1.6,250L1.62,254L1.65,240L1.68,245L1.72,225L1.78,200L1.85,160L1.9,122L1.97,75L2.05,35L2.15,15L2.3,5L2.5,0"/>
</g>
<g transform="translate(372,603.5) scale(22.5,-0.327)">
<path class="ctl" d="M0.1,0L0.18,60L0.28,153L0.36,200L0.43,218L0.5,200L0.58,172L0.65,130L0.73,90L0.8,60L0.88,30L0.96,16L1.03,10L1.15,7L1.25,5L1.4,4L1.55,3L1.7,5L1.8,8L1.9,7L2,4L2.1,2L2.3,0Z"/>
<path class="smp" vector-effect="non-scaling-stroke" d="M0.7,0L0.82,15L0.9,28L0.96,40L1.03,80L1.1,132L1.17,152L1.23,158L1.28,150L1.33,142L1.38,150L1.44,158L1.5,165L1.56,178L1.6,180L1.63,183L1.68,175L1.73,163L1.79,140L1.85,112L1.92,80L2,51L2.08,32L2.15,20L2.25,10L2.38,5L2.5,2L2.6,0"/>
</g>
<rect class="fr" x="49" y="516" width="90" height="87.5"/>
<rect class="fr" x="157" y="516" width="90" height="87.5"/>
<rect class="fr" x="265" y="516" width="90" height="87.5"/>
<rect class="fr" x="372" y="516" width="90" height="87.5"/>
<path class="tk" d="M46.5,603.5H49M46.5,587.15H49M46.5,570.8H49M46.5,554.45H49M46.5,538.1H49M46.5,521.75H49M47.5,595.3H49M47.5,579H49M47.5,562.6H49M47.5,546.3H49M47.5,530H49 M154.5,603.5H157M154.5,587.15H157M154.5,570.8H157M154.5,554.45H157M154.5,538.1H157M154.5,521.75H157M155.5,595.3H157M155.5,579H157M155.5,562.6H157M155.5,546.3H157M155.5,530H157 M262.5,603.5H265M262.5,587.15H265M262.5,570.8H265M262.5,554.45H265M262.5,538.1H265M262.5,521.75H265M263.5,595.3H265M263.5,579H265M263.5,562.6H265M263.5,546.3H265M263.5,530H265 M369.5,603.5H372M369.5,587.15H372M369.5,570.8H372M369.5,554.45H372M369.5,538.1H372M369.5,521.75H372M370.5,595.3H372M370.5,579H372M370.5,562.6H372M370.5,546.3H372M370.5,530H372"/>
<g transform="translate(49,603.5) scale(22.5,1)"><use href="#xax"/></g>
<g transform="translate(157,603.5) scale(22.5,1)"><use href="#xax"/></g>
<g transform="translate(265,603.5) scale(22.5,1)"><use href="#xax"/></g>
<g transform="translate(372,603.5) scale(22.5,1)"><use href="#xax"/></g>
<g class="t">
<text x="119.5" y="524" text-anchor="middle">MFI</text>
<rect class="lg" x="109" y="528.5" width="5" height="5"/><text x="117" y="534">9.7</text>
<rect class="lw" x="109" y="537.5" width="5" height="5"/><text x="117" y="543">335</text>
<text x="227.5" y="524" text-anchor="middle">MFI</text>
<rect class="lg" x="217" y="528.5" width="5" height="5"/><text x="225" y="534">3.3</text>
<rect class="lw" x="217" y="537.5" width="5" height="5"/><text x="225" y="543">9.1</text>
<text x="335.5" y="524" text-anchor="middle">MFI</text>
<rect class="lg" x="325" y="528.5" width="5" height="5"/><text x="333" y="534">3.3</text>
<rect class="lw" x="325" y="537.5" width="5" height="5"/><text x="333" y="543">41.9</text>
<text x="442.5" y="524" text-anchor="middle">MFI</text>
<rect class="lg" x="432" y="528.5" width="5" height="5"/><text x="440" y="534">3.3</text>
<rect class="lw" x="432" y="537.5" width="5" height="5"/><text x="440" y="543">27.6</text>
</g>
<g class="t" text-anchor="middle">
<text x="51" y="616">10<tspan dy="-3.3" font-size="5.8">0</tspan></text>
<text x="73.5" y="616">10<tspan dy="-3.3" font-size="5.8">1</tspan></text>
<text x="96" y="616">10<tspan dy="-3.3" font-size="5.8">2</tspan></text>
<text x="118.5" y="616">10<tspan dy="-3.3" font-size="5.8">3</tspan></text>
<text x="141" y="616">10<tspan dy="-3.3" font-size="5.8">4</tspan></text>
<text x="159" y="616">10<tspan dy="-3.3" font-size="5.8">0</tspan></text>
<text x="181.5" y="616">10<tspan dy="-3.3" font-size="5.8">1</tspan></text>
<text x="204" y="616">10<tspan dy="-3.3" font-size="5.8">2</tspan></text>
<text x="226.5" y="616">10<tspan dy="-3.3" font-size="5.8">3</tspan></text>
<text x="249" y="616">10<tspan dy="-3.3" font-size="5.8">4</tspan></text>
<text x="267" y="616">10<tspan dy="-3.3" font-size="5.8">0</tspan></text>
<text x="289.5" y="616">10<tspan dy="-3.3" font-size="5.8">1</tspan></text>
<text x="312" y="616">10<tspan dy="-3.3" font-size="5.8">2</tspan></text>
<text x="334.5" y="616">10<tspan dy="-3.3" font-size="5.8">3</tspan></text>
<text x="357" y="616">10<tspan dy="-3.3" font-size="5.8">4</tspan></text>
<text x="374" y="616">10<tspan dy="-3.3" font-size="5.8">0</tspan></text>
<text x="396.5" y="616">10<tspan dy="-3.3" font-size="5.8">1</tspan></text>
<text x="419" y="616">10<tspan dy="-3.3" font-size="5.8">2</tspan></text>
<text x="441.5" y="616">10<tspan dy="-3.3" font-size="5.8">3</tspan></text>
<text x="464" y="616">10<tspan dy="-3.3" font-size="5.8">4</tspan></text>
<text x="92" y="626">CD31</text>
<text x="202" y="626">TIE1</text>
<text x="311" y="626">TIE2</text>
<text x="417" y="626">CD309</text>
</g>

<!-- g panel -->
<text class="t" x="528" y="408" text-anchor="middle">Primary HUVEC</text>
<text class="t" x="624" y="408" text-anchor="middle">e-hUVEC-2</text>
<g clip-path="url(#cg1)">
<rect x="484" y="415" width="89" height="88" fill="#bcbcbc"/>
<ellipse cx="532" cy="440" rx="22" ry="22" fill="url(#g1s)"/>
<ellipse cx="500" cy="495" rx="25" ry="12" fill="url(#g1s)" opacity="0.6"/>
<g fill="none" stroke="#353535" stroke-width="2.2" stroke-linecap="round">
<path d="M484,442C495,447 503,445 508,437C513,428 515,420 520,414"/>
<path d="M508,437C515,446 520,448 528,447C540,446 548,440 552,430C555,422 560,418 566,414"/>
<path d="M552,430C558,438 566,440 574,438"/>
<path d="M484,472C490,476 500,478 506,476"/>
<path d="M506,476C515,480 530,481 545,477C552,474 555,468 556,458C556,450 553,446 548,441"/>
<path d="M545,477C546,486 548,495 552,503"/>
<path d="M556,458C562,452 568,452 574,454"/>
<path d="M506,476C502,486 500,495 502,503"/>
<path d="M522,480C523,490 524,497 524,503"/>
<path d="M556,478C562,482 568,484 574,484"/>
</g>
<path d="M560,497H567" stroke="#fff" stroke-width="1.5"/>
</g>
<g clip-path="url(#cg2)">
<rect x="579" y="415" width="89" height="88" fill="#a2a2a2"/>
<ellipse cx="622" cy="470" rx="38" ry="36" fill="url(#g2s)"/>
<g fill="#b9b9b9" stroke="#6c6c6c" stroke-width="0.9">
<ellipse cx="586" cy="424" rx="6" ry="5"/><ellipse cx="598" cy="420" rx="5" ry="4"/><ellipse cx="611" cy="424" rx="6" ry="5"/><ellipse cx="625" cy="420" rx="5" ry="4"/><ellipse cx="640" cy="426" rx="6" ry="5"/><ellipse cx="655" cy="421" rx="6" ry="5"/><ellipse cx="664" cy="433" rx="5" ry="6"/>
<ellipse cx="585" cy="440" rx="5" ry="6"/><ellipse cx="598" cy="436" rx="5" ry="4"/><ellipse cx="650" cy="440" rx="6" ry="5"/><ellipse cx="663" cy="450" rx="5" ry="6"/>
<ellipse cx="584" cy="458" rx="5" ry="6"/><ellipse cx="585" cy="476" rx="5" ry="6"/><ellipse cx="664" cy="468" rx="5" ry="6"/><ellipse cx="662" cy="485" rx="6" ry="6"/>
<ellipse cx="586" cy="494" rx="6" ry="5"/><ellipse cx="600" cy="498" rx="6" ry="4"/><ellipse cx="648" cy="497" rx="6" ry="5"/><ellipse cx="636" cy="499" rx="5" ry="4"/>
</g>
<path d="M655,497H662" stroke="#fff" stroke-width="1.5"/>
</g>

<!-- h panel -->
<g clip-path="url(#ch1)">
<rect x="484" y="515" width="89" height="88" fill="#d7beb6"/>
<g fill="#f2e9e6">
<ellipse cx="491" cy="524" rx="2.5" ry="4"/><ellipse cx="501" cy="530" rx="2.5" ry="4"/><ellipse cx="511" cy="522" rx="2.5" ry="4"/><ellipse cx="521" cy="530" rx="2.5" ry="4"/><ellipse cx="531" cy="523" rx="2.5" ry="4"/><ellipse cx="541" cy="530" rx="2.5" ry="4"/><ellipse cx="551" cy="522" rx="2.5" ry="4"/>
<ellipse cx="491" cy="544" rx="2.5" ry="4"/><ellipse cx="501" cy="551" rx="2.5" ry="4"/><ellipse cx="511" cy="543" rx="2.5" ry="4"/><ellipse cx="521" cy="551" rx="2.5" ry="4"/><ellipse cx="531" cy="543" rx="2.5" ry="4"/><ellipse cx="541" cy="549" rx="2.5" ry="4"/>
<ellipse cx="491" cy="566" rx="2.5" ry="4"/><ellipse cx="501" cy="572" rx="2.5" ry="4"/><ellipse cx="511" cy="565" rx="2.5" ry="4"/><ellipse cx="521" cy="571" rx="2.5" ry="4"/><ellipse cx="531" cy="565" rx="2.5" ry="4"/>
<ellipse cx="491" cy="586" rx="2.5" ry="4"/><ellipse cx="511" cy="584" rx="2.5" ry="4"/>
</g>
<path d="M498,603C515,590 535,575 548,558C557,545 563,530 568,515" fill="none" stroke="#9a5e52" stroke-width="6" opacity="0.45"/>
<path d="M522,603C540,590 555,570 573,552L573,603Z" fill="#f6f2ef"/>
<g fill="#4a1c12">
<circle cx="508" cy="596" r="1.2"/><circle cx="515" cy="592" r="1"/><circle cx="521" cy="588" r="1.3"/><circle cx="528" cy="583" r="1"/><circle cx="534" cy="578" r="1.2"/><circle cx="540" cy="572" r="1"/><circle cx="546" cy="565" r="1.3"/><circle cx="550" cy="558" r="1"/><circle cx="555" cy="550" r="1.2"/><circle cx="559" cy="542" r="1"/><circle cx="562" cy="534" r="1.3"/><circle cx="565" cy="526" r="1"/><circle cx="567" cy="519" r="1.2"/><circle cx="513" cy="598" r="1"/><circle cx="537" cy="580" r="0.9"/><circle cx="552" cy="562" r="0.9"/><circle cx="560" cy="530" r="0.9"/>
</g>
<path d="M492,591H522" stroke="#111" stroke-width="1.5"/>
</g>
<g clip-path="url(#ch2)">
<rect x="579" y="515" width="89" height="88" fill="#f3eee9"/>
<g fill="#f9f6f3" stroke="#e2d6cc" stroke-width="0.7">
<ellipse cx="588" cy="528" rx="4" ry="5"/><ellipse cx="600" cy="536" rx="4" ry="5"/><ellipse cx="590" cy="550" rx="4" ry="5"/><ellipse cx="603" cy="558" rx="4" ry="5"/><ellipse cx="591" cy="572" rx="4" ry="5"/><ellipse cx="604" cy="580" rx="4" ry="5"/><ellipse cx="615" cy="545" rx="4" ry="5"/><ellipse cx="616" cy="568" rx="4" ry="5"/><ellipse cx="612" cy="524" rx="4" ry="5"/><ellipse cx="628" cy="530" rx="4" ry="5"/><ellipse cx="627" cy="555" rx="4" ry="5"/>
</g>
<rect x="660" y="515" width="8" height="88" fill="#e8dccf"/>
<path d="M632,578C638,562 644,548 650,530M640,580C646,565 651,550 656,534" fill="none" stroke="#a97a68" stroke-width="1.2"/>
<path d="M583,593H602" stroke="#111" stroke-width="1.5"/>
</g>
<text class="t" x="527" y="617" text-anchor="middle">Primary HUVEC</text>
<text class="t" x="624" y="617" text-anchor="middle">e-hUVEC-2</text>
</svg>
</body></html>
